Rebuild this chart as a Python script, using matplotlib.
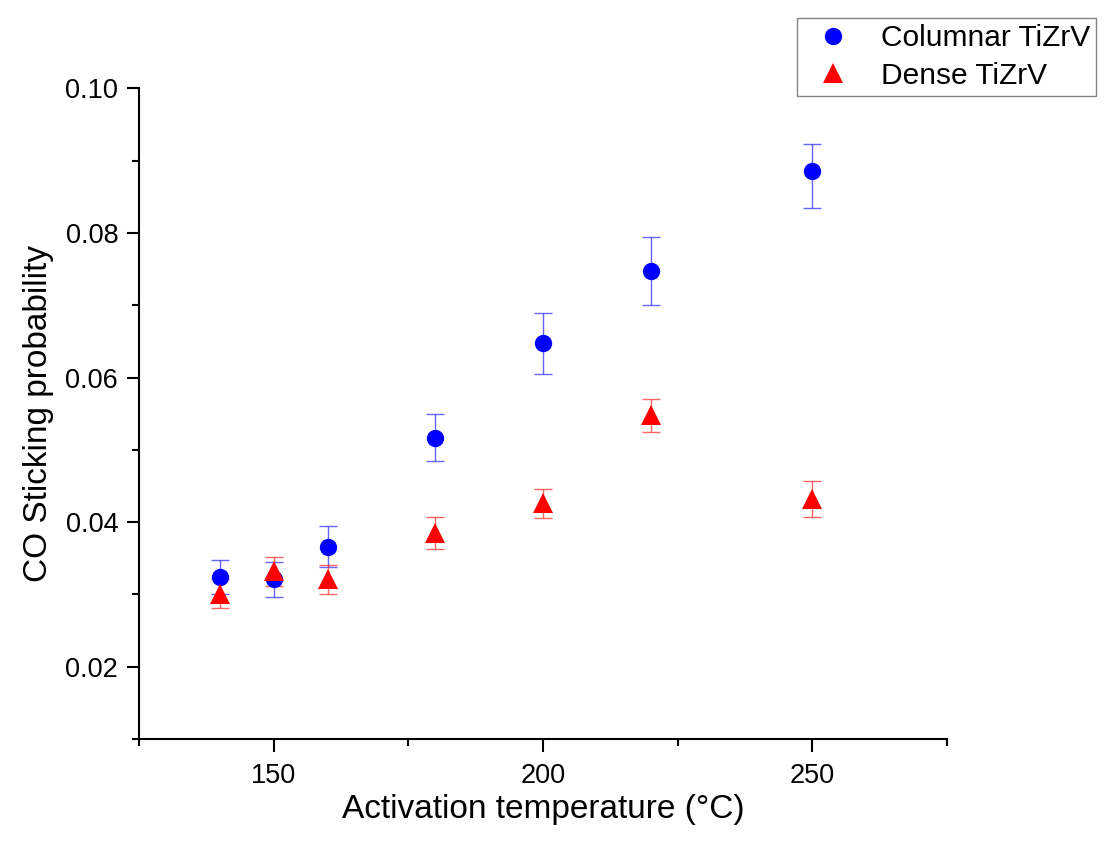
import matplotlib
matplotlib.use("Agg")
import matplotlib.pyplot as plt
import numpy as np

plt.rcParams['font.family'] = ['Liberation Sans', 'DejaVu Sans']

# Activation temperatures (°C)
temperature = [140, 150, 160, 180, 200, 220, 250]

# Columnar TiZrV: CO sticking probability and error (lower, upper)
columnar = [0.0324, 0.0321, 0.0366, 0.0517, 0.0648, 0.0747, 0.0886]
columnar_err_low = [0.0024, 0.0024, 0.0028, 0.0033, 0.0043, 0.0047, 0.0051]
columnar_err_high = [0.0024, 0.0024, 0.0029, 0.0033, 0.0042, 0.0048, 0.0037]

# Dense TiZrV: CO sticking probability and error
dense = [0.0301, 0.0332, 0.0321, 0.0385, 0.0426, 0.0548, 0.0432]
dense_err = [0.0020, 0.0020, 0.0020, 0.0022, 0.0020, 0.0023, 0.0025]

fig = plt.figure(figsize=(11.07, 8.42), dpi=100)
ax = fig.add_axes([0.1256, 0.1223, 0.7299, 0.7726])

ax.errorbar(temperature, columnar, yerr=[columnar_err_low, columnar_err_high],
            fmt='none', ecolor=(0.2, 0.2, 1.0, 0.75), elinewidth=1.0,
            capsize=6.5, capthick=1.0, zorder=2)
ax.errorbar(temperature, dense, yerr=dense_err,
            fmt='none', ecolor=(1.0, 0.2, 0.2, 0.75), elinewidth=1.0,
            capsize=6.5, capthick=1.0, zorder=2)

h1, = ax.plot(temperature, columnar, linestyle='none', marker='o',
              markersize=12.5, color='#0000ff', markeredgewidth=0,
              label='Columnar TiZrV', zorder=3)
h2, = ax.plot(temperature, dense, linestyle='none', marker='^',
              markersize=14.5, color='#ff0000', markeredgewidth=0,
              label='Dense TiZrV', zorder=4)

ax.set_xlim(125, 275)
ax.set_ylim(0.01, 0.10)
ax.set_xticks([150, 200, 250])
ax.set_xticks([125, 175, 225, 275], minor=True)
ax.set_yticks([0.02, 0.04, 0.06, 0.08, 0.10])
ax.set_yticks([0.01, 0.03, 0.05, 0.07, 0.09], minor=True)
ax.set_yticklabels(['0.02', '0.04', '0.06', '0.08', '0.10'])

for side in ('top', 'right'):
    ax.spines[side].set_visible(False)
for side in ('left', 'bottom'):
    ax.spines[side].set_linewidth(1.5)

ax.tick_params(which='major', direction='out', length=9, width=1.5,
               labelsize=19.5, pad=6)
ax.tick_params(axis='x', which='major', pad=8)
ax.tick_params(which='minor', direction='out', length=5, width=1.5)

ax.set_xlabel('Activation temperature (°C)', fontsize=24, labelpad=4)
ax.set_ylabel('CO Sticking probability', fontsize=24, labelpad=8)

leg = fig.legend(handles=[h1, h2], loc='upper right',
                 bbox_to_anchor=(1096 / 1107, 1 - 18 / 842),
                 fontsize=21.5, frameon=True, fancybox=False,
                 borderpad=0.2, handletextpad=0.6, labelspacing=0.32,
                 handlelength=2.0, borderaxespad=0)
leg.get_frame().set_edgecolor('#666666')
leg.get_frame().set_linewidth(1.0)

fig.savefig('out.png', dpi=100)
